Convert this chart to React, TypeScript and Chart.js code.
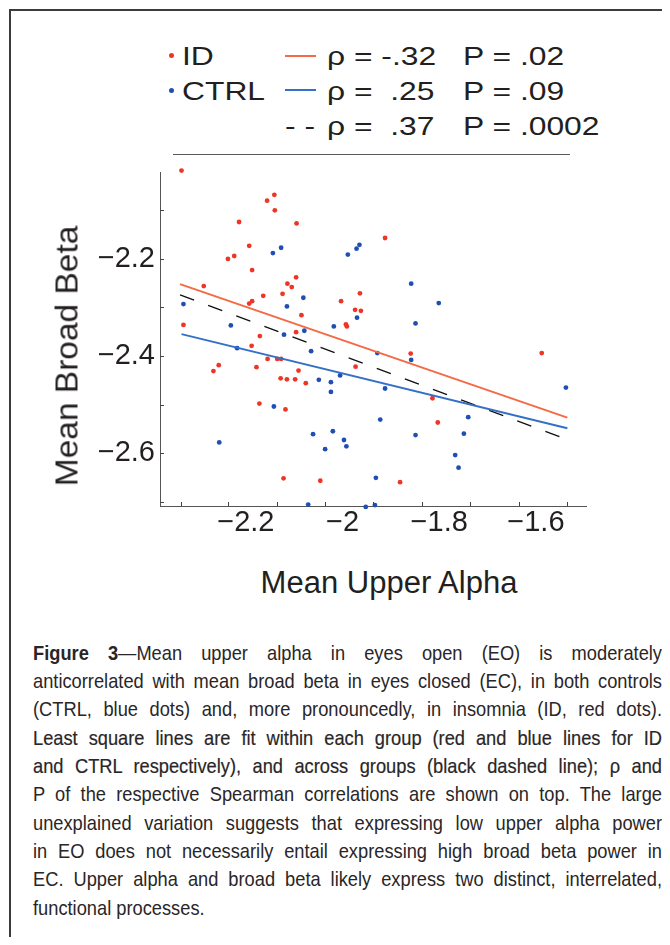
import React, { useEffect, useRef } from "react";
import { Chart, registerables } from "chart.js";

Chart.register(...registerables);

// ---------- data ----------
const idX = [
  -2.333, -2.141, -2.156, -2.140, -2.214, -2.095, -2.193, -2.237, -2.224, -2.187,
  -2.096, -2.114, -2.105, -2.287, -2.124, -2.164, -2.187, -2.193, -1.964, -2.003,
  -1.974, -1.962, -2.085, -2.329, -1.993, -1.991, -2.096, -2.171, -1.912, -2.188,
  -2.256, -2.267, -2.178, -2.155, -2.135, -2.127, -2.091, -2.128, -2.115, -2.098,
  -2.076, -1.973, -2.172, -2.118, -2.122, -2.046, -1.859, -1.588, -1.814, -1.803,
  -1.881,
];
const idY = [
  -2.018, -2.068, -2.080, -2.100, -2.124, -2.127, -2.173, -2.200, -2.194, -2.223,
  -2.238, -2.251, -2.258, -2.256, -2.272, -2.276, -2.287, -2.292, -2.271, -2.287,
  -2.305, -2.307, -2.316, -2.336, -2.335, -2.339, -2.351, -2.359, -2.157, -2.379,
  -2.419, -2.431, -2.423, -2.406, -2.406, -2.406, -2.430, -2.446, -2.448, -2.448,
  -2.456, -2.422, -2.498, -2.510, -2.652, -2.657, -2.395, -2.394, -2.487, -2.537,
  -2.660,
];
const ctrlX = [
  -2.144, -2.127, -2.081, -2.115, -2.329, -2.231, -2.121, -2.079, -2.018, -1.970,
  -1.989, -1.971, -1.965, -1.858, -1.801, -1.849, -2.218, -2.065, -2.049, -2.024,
  -2.005, -2.024, -2.142, -2.255, -2.061, -2.020, -1.997, -1.992, -2.036, -2.071,
  -1.952, -1.928, -1.858, -1.538, -1.912, -1.922, -1.849, -1.740, -1.749, -1.767,
  -1.760, -1.931, -1.933,
];
const ctrlY = [
  -2.188, -2.177, -2.280, -2.298, -2.293, -2.337, -2.356, -2.348, -2.339, -2.321,
  -2.191, -2.179, -2.171, -2.251, -2.291, -2.333, -2.384, -2.390, -2.449, -2.454,
  -2.440, -2.474, -2.504, -2.578, -2.561, -2.555, -2.573, -2.586, -2.592, -2.706,
  -2.711, -2.394, -2.408, -2.465, -2.467, -2.531, -2.563, -2.526, -2.560, -2.604,
  -2.630, -2.651, -2.707,
];
const fitIdX = [-2.336, -1.535];
const fitIdY = [-2.252, -2.527];
const fitCtrlX = [-2.333, -1.535];
const fitCtrlY = [-2.355, -2.549];
const fitAllX = [-2.336, -1.536];
const fitAllY = [-2.274, -2.572];

const xRange = [-2.3775, -1.495];
const yRange = [-2.709, -2.021];
const xLabelTicks = [-2.2, -2, -1.8, -1.6];
const yLabelTicks = [-2.2, -2.4, -2.6];
const xTickMarks = [-2.335, -2.236, -2.136, -2.036, -1.936, -1.836, -1.736, -1.636, -1.536];
const yTickMarks = [-2.1, -2.2, -2.3, -2.4, -2.5, -2.6, -2.7];

const groupLabels = ["ID", "CTRL"];
const rhoLabels = ["ρ = -.32", "ρ =  .25", "ρ =  .37"];
const pLabels = ["P = .02", "P = .09", "P = .0002"];

const xTitle = "Mean Upper Alpha";
const yTitle = "Mean Broad Beta";

const captionLines = [
  "Figure 3|—Mean upper alpha in eyes open (EO) is moderately",
  "anticorrelated with mean broad beta in eyes closed (EC), in both controls",
  "(CTRL, blue dots) and, more pronouncedly, in insomnia (ID, red dots).",
  "Least square lines are fit within each group (red and blue lines for ID",
  "and CTRL respectively), and across groups (black dashed line); ρ and",
  "P of the respective Spearman correlations are shown on top. The large",
  "unexplained variation suggests that expressing low upper alpha power",
  "in EO does not necessarily entail expressing high broad beta power in",
  "EC. Upper alpha and broad beta likely express two distinct, interrelated,",
  "functional processes.",
];

// ---------- styles ----------
const FONT = '"Liberation Sans", Arial, Helvetica, sans-serif';
const INK = "#231f20";
const RED_DOT = "#ee3526";
const BLUE_DOT = "#1f4fb4";
const RED_LINE = "#f36a45";
const BLUE_LINE = "#3470c8";
const CAPTION_SCALE = 0.87;

const fmt = (v: number) => String(v).replace("-", "\u2212");

const innerTicks = {
  id: "innerTicks",
  afterDraw(chart: any) {
    const { ctx, chartArea, scales } = chart;
    ctx.save();
    ctx.strokeStyle = "#444";
    ctx.lineWidth = 1;
    ctx.beginPath();
    xTickMarks.forEach((v) => {
      const px = Math.round(scales.x.getPixelForValue(v)) + 0.5;
      ctx.moveTo(px, chartArea.bottom);
      ctx.lineTo(px, chartArea.bottom - 4);
    });
    yTickMarks.forEach((v) => {
      const py = Math.round(scales.y.getPixelForValue(v)) + 0.5;
      ctx.moveTo(chartArea.left, py);
      ctx.lineTo(chartArea.left + 4, py);
    });
    ctx.stroke();
    ctx.restore();
  },
};

const pts = (xs: number[], ys: number[]) => xs.map((x, i) => ({ x, y: ys[i] }));

export default function App() {
  const ref = useRef<HTMLCanvasElement>(null);

  useEffect(() => {
    if (!ref.current) return;
    const chart = new Chart(ref.current, {
      type: "scatter",
      data: {
        datasets: [
          {
            label: "ID fit",
            data: pts(fitIdX, fitIdY),
            showLine: true,
            borderColor: RED_LINE,
            borderWidth: 2,
            pointRadius: 0,
            order: 1,
          },
          {
            label: "CTRL fit",
            data: pts(fitCtrlX, fitCtrlY),
            showLine: true,
            borderColor: BLUE_LINE,
            borderWidth: 2,
            pointRadius: 0,
            order: 1,
          },
          {
            label: "All fit",
            data: pts(fitAllX, fitAllY),
            showLine: true,
            borderColor: "#111",
            borderWidth: 1.4,
            borderDash: [15, 15],
            pointRadius: 0,
            order: 1,
          },
          {
            label: "ID",
            data: pts(idX, idY),
            backgroundColor: RED_DOT,
            borderWidth: 0,
            pointRadius: 2.4,
            clip: false,
            order: 2,
          },
          {
            label: "CTRL",
            data: pts(ctrlX, ctrlY),
            backgroundColor: BLUE_DOT,
            borderWidth: 0,
            pointRadius: 2.4,
            clip: false,
            order: 2,
          },
        ] as any,
      },
      options: {
        animation: false,
        responsive: false,
        layout: { padding: { top: 12, right: 33.3, left: 0, bottom: 0 } },
        plugins: { legend: { display: false }, tooltip: { enabled: false } },
        scales: {
          x: {
            type: "linear",
            min: xRange[0],
            max: xRange[1],
            afterBuildTicks: (s: any) => {
              s.ticks = xLabelTicks.map((v) => ({ value: v }));
            },
            afterFit: (s: any) => {
              s.height = 54;
              s.paddingLeft = 0;
              s.paddingRight = 0;
            },
            grid: { display: false, drawTicks: false },
            border: { display: true, color: "#555", width: 1 },
            ticks: {
              autoSkip: false,
              maxRotation: 0,
              padding: 0,
              color: INK,
              font: { family: FONT, size: 29 },
              callback: (v: any) => fmt(v),
            },
          },
          y: {
            type: "linear",
            min: yRange[0],
            max: yRange[1],
            afterBuildTicks: (s: any) => {
              s.ticks = yLabelTicks.map((v) => ({ value: v }));
            },
            afterFit: (s: any) => {
              s.width = 140;
              s.paddingTop = 0;
              s.paddingBottom = 0;
            },
            grid: { display: false, drawTicks: false },
            border: { display: true, color: "#555", width: 1 },
            ticks: {
              autoSkip: false,
              padding: 5,
              color: INK,
              font: { family: FONT, size: 29 },
              callback: (v: any) => fmt(v),
            },
          },
        },
      } as any,
      plugins: [innerTicks],
    });
    return () => chart.destroy();
  }, []);

  const legendText = (text: string, left: number, top: number) => (
    <div
      key={text + left + top}
      style={{
        position: "absolute",
        left,
        top,
        fontSize: 26.5,
        lineHeight: "26.5px",
        whiteSpace: "pre",
        transform: "scaleX(1.2)",
        transformOrigin: "0 0",
      }}
    >
      {text}
    </div>
  );

  const rowTops = [34.6, 69.6, 104.6];

  return (
    <div
      style={{
        position: "relative",
        width: 654,
        height: 929,
        fontFamily: FONT,
        color: INK,
      }}
    >
      {/* frame */}
      <div
        style={{
          position: "absolute",
          left: 1,
          top: 1,
          width: 661,
          height: 936,
          boxSizing: "border-box",
          borderLeft: "2px solid #3c3c3c",
          borderTop: "2px solid #3c3c3c",
        }}
      />

      {/* legend */}
      <div style={{ position: "absolute", left: 161.2, top: 44.5, width: 5, height: 5, borderRadius: "50%", background: RED_DOT }} />
      <div style={{ position: "absolute", left: 161.2, top: 79.5, width: 5, height: 5, borderRadius: "50%", background: BLUE_DOT }} />
      {legendText(groupLabels[0], 173.7, rowTops[0])}
      {legendText(groupLabels[1], 173.7, rowTops[1])}
      <div style={{ position: "absolute", left: 277, top: 46.75, width: 31, height: 2.5, background: RED_LINE }} />
      <div style={{ position: "absolute", left: 277, top: 80.75, width: 31, height: 2.5, background: BLUE_LINE }} />
      {legendText("- -", 277, rowTops[2])}
      {rhoLabels.map((t, i) => legendText(t, 318.7, rowTops[i]))}
      {pLabels.map((t, i) => legendText(t, 455.3, rowTops[i]))}
      <div style={{ position: "absolute", left: 165.3, top: 145.5, width: 396.7, height: 1.7, background: "#5a5a5a" }} />

      {/* chart */}
      <canvas
        ref={ref}
        width={600}
        height={400}
        style={{ position: "absolute", left: 12, top: 152, width: 600, height: 400 }}
      />

      {/* axis titles */}
      <div
        style={{
          position: "absolute",
          left: 381,
          top: 558.7,
          fontSize: 31,
          lineHeight: "31px",
          whiteSpace: "nowrap",
          transform: "translateX(-50%)",
        }}
      >
        {xTitle}
      </div>
      <div
        style={{
          position: "absolute",
          left: 58.7,
          top: 348,
          fontSize: 31,
          lineHeight: "31px",
          whiteSpace: "nowrap",
          transform: "translate(-50%, -50%) rotate(-90deg) scaleX(1.08)",
        }}
      >
        {yTitle}
      </div>

      {/* caption */}
      <div
        style={{
          position: "absolute",
          left: 25,
          top: 630.85,
          width: 629 / CAPTION_SCALE,
          transform: `scaleX(${CAPTION_SCALE})`,
          transformOrigin: "0 0",
          fontSize: 21,
          lineHeight: "28.3px",
          color: "#2a2627",
        }}
      >
        {captionLines.map((line, i) => {
          const last = i === captionLines.length - 1;
          const heavy = i === 3 || i === 4;
          const parts = line.split("|");
          return (
            <div
              key={i}
              style={{
                textAlign: "justify",
                textAlignLast: last ? "left" : "justify",
                WebkitTextStroke: heavy ? "0.2px #2a2627" : undefined,
              }}
            >
              {parts.length > 1 ? (
                <>
                  <b>{parts[0]}</b>
                  {parts[1]}
                </>
              ) : (
                line
              )}
            </div>
          );
        })}
      </div>
    </div>
  );
}
